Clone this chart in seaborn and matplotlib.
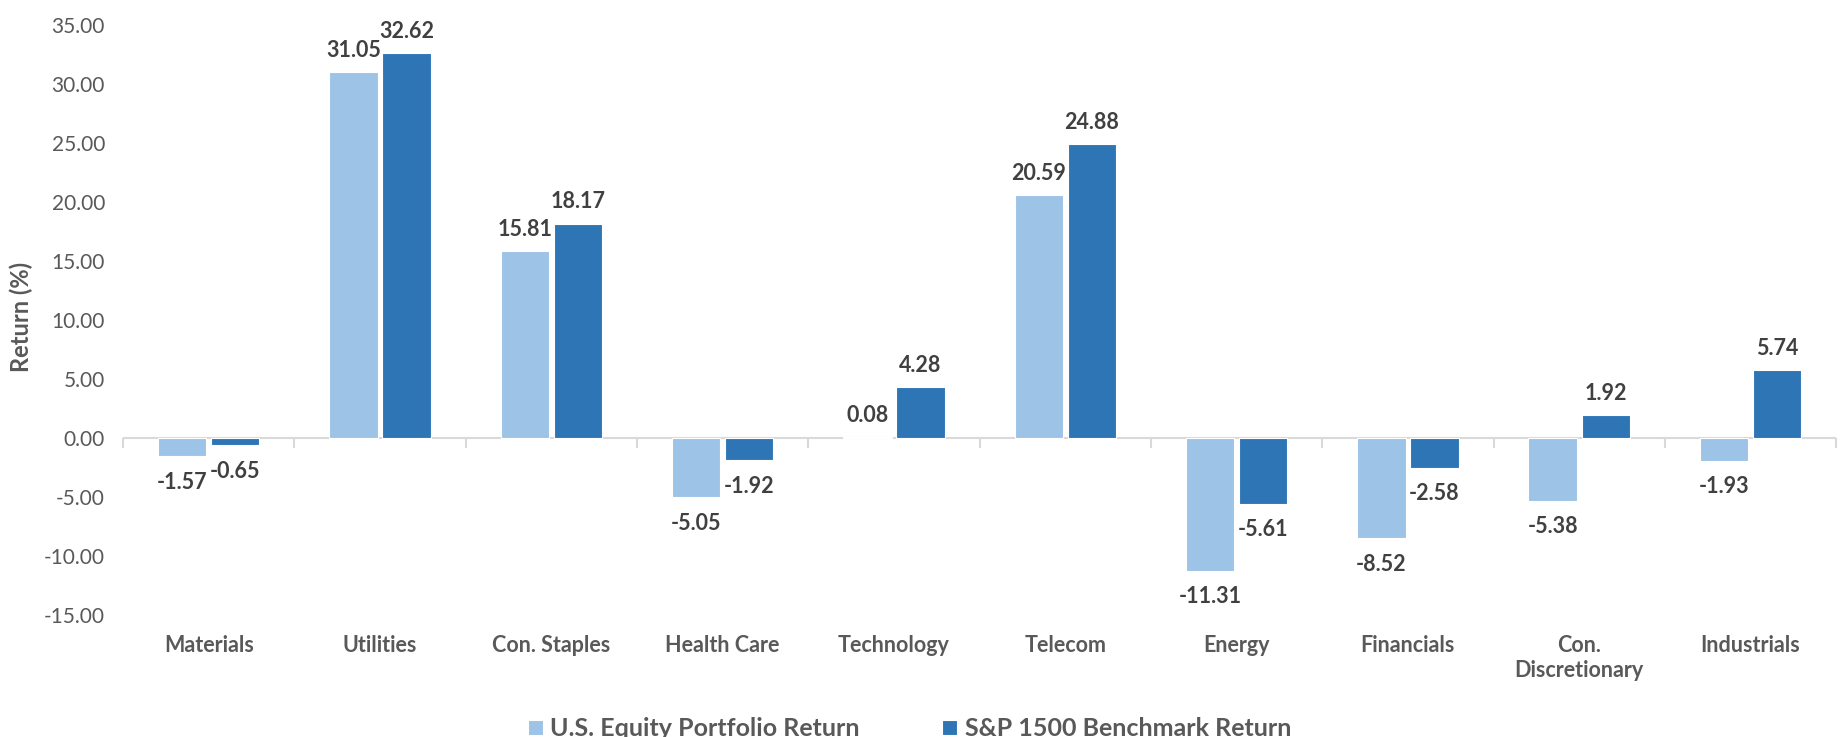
import matplotlib
matplotlib.use("Agg")
import matplotlib.pyplot as plt
import seaborn as sns
import pandas as pd
import numpy as np

sectors = ["Materials", "Utilities", "Con. Staples", "Health Care", "Technology",
           "Telecom", "Energy", "Financials", "Con.\nDiscretionary", "Industrials"]
portfolio = [-1.57, 31.05, 15.81, -5.05, 0.08, 20.59, -11.31, -8.52, -5.38, -1.93]
benchmark = [-0.65, 32.62, 18.17, -1.92, 4.28, 24.88, -5.61, -2.58, 1.92, 5.74]
series_names = ["U.S. Equity Portfolio Return", "S&P 1500 Benchmark Return"]
colors = ["#9DC3E6", "#2E75B6"]
yticks = [-15, -10, -5, 0, 5, 10, 15, 20, 25, 30, 35]

df = pd.DataFrame({
    "sector": sectors * 2,
    "value": portfolio + benchmark,
    "series": [series_names[0]] * len(sectors) + [series_names[1]] * len(sectors),
})

sns.set_style("white")
plt.rcParams["font.family"] = ["Lato", "DejaVu Sans"]

fig = plt.figure(figsize=(18.48, 7.37), dpi=100)
ax = fig.add_axes([0.0666, 0.166, 0.927, 0.800])

sns.barplot(data=df, x="sector", y="value", hue="series", order=sectors,
            hue_order=series_names, palette=colors, width=0.62, gap=0.09,
            edgecolor="white", linewidth=0.8, ax=ax, legend=True, saturation=1)

ax.set_ylim(-15, 35)
ax.set_xlim(-0.5, len(sectors) - 0.5)
ax.set_yticks(yticks)
ax.set_yticklabels([f"{v:.2f}" for v in yticks], fontsize=15, color="#595959")
ax.tick_params(axis="y", length=0, pad=13)
ax.tick_params(axis="x", length=0, pad=15)
for lbl in ax.get_xticklabels():
    lbl.set_fontsize(15.5)
    lbl.set_fontweight("bold")
    lbl.set_color("#595959")
ax.set_xlabel("")
ax.set_ylabel("Return (%)", fontsize=17, fontweight="bold", color="#595959")
ax.yaxis.set_label_coords(-0.0525, 0.505)

for s in ax.spines.values():
    s.set_visible(False)

ax.axhline(0, color="#D9D9D9", linewidth=1.5, zorder=0.5)
sec = ax.secondary_xaxis(15 / 50)
sec.set_xticks([])
sec.set_xticks(np.arange(-0.5, len(sectors), 1.0), minor=True)
sec.tick_params(axis="x", which="minor", length=7, width=1.5, color="#D9D9D9", direction="out")
sec.tick_params(axis="x", which="major", length=0)
sec.spines["bottom"].set_visible(False)

for cont in ax.containers:
    vals = cont.datavalues
    pos_labels = [f"{v:.2f}" if v >= 0 else "" for v in vals]
    neg_labels = [f"{v:.2f}" if v < 0 else "" for v in vals]
    ax.bar_label(cont, labels=pos_labels, padding=8, fontsize=15.5, fontweight="bold", color="#404040")
    ax.bar_label(cont, labels=neg_labels, padding=11, fontsize=15.5, fontweight="bold", color="#404040")

handles, labels = ax.get_legend_handles_labels()
ax.get_legend().remove()
fig.legend(handles, labels, loc="lower center", bbox_to_anchor=(0.492, -0.035), ncol=2,
           frameon=False, prop={"size": 18, "weight": "bold"}, labelcolor="#595959",
           handlelength=0.6, handleheight=0.6, columnspacing=3.3, handletextpad=0.3)

fig.savefig("out.png", dpi=100)
